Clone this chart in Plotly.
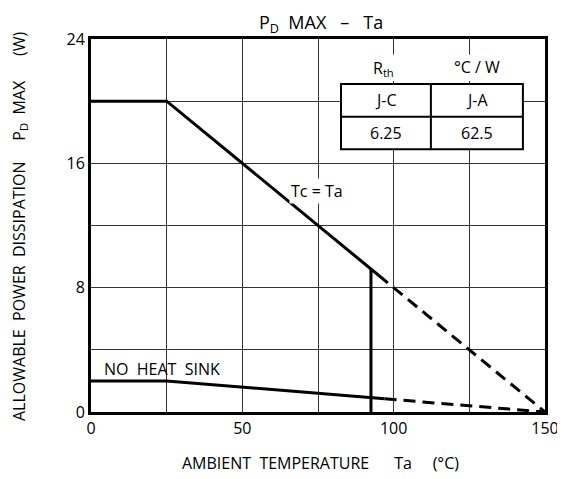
import plotly.graph_objects as go

# Data
tc_solid_x = [0, 25, 95]
tc_solid_y = [20, 20, 8.8]
tc_dash_x = [95, 150]
tc_dash_y = [8.8, 0]
ns_solid_x = [0, 25, 97]
ns_solid_y = [2, 2, 0.85]
ns_dash_x = [97, 150]
ns_dash_y = [0.85, 0]
limit_x = [92.5, 92.5]
limit_y = [0, 9.2]
x_ticks = [0, 50, 100, 150]
y_ticks = [0, 8, 16, 24]

FONT = "Open Sans"
fig = go.Figure()
line = dict(color="black", width=3)
dash = dict(color="black", width=3, dash="12px,7px")
fig.add_trace(go.Scatter(x=tc_solid_x, y=tc_solid_y, mode="lines", line=line))
fig.add_trace(go.Scatter(x=tc_dash_x, y=tc_dash_y, mode="lines", line=dash))
fig.add_trace(go.Scatter(x=ns_solid_x, y=ns_solid_y, mode="lines", line=line))
fig.add_trace(go.Scatter(x=ns_dash_x, y=ns_dash_y, mode="lines", line=dash))
fig.add_trace(go.Scatter(x=limit_x, y=limit_y, mode="lines", line=line))

# table
tbl = dict(color="black", width=2)
fig.add_shape(type="rect", x0=82.6, x1=142.7, y0=16.9, y1=21.1, line=tbl, fillcolor="white", layer="above")
fig.add_shape(type="line", x0=82.6, x1=142.7, y0=19.0, y1=19.0, line=tbl, layer="above")
fig.add_shape(type="line", x0=112.3, x1=112.3, y0=16.9, y1=21.1, line=tbl, layer="above")
fig.add_shape(type="rect", x0=84, x1=141, y0=21.3, y1=23.0, line=dict(width=0), fillcolor="white", layer="above")
tf = dict(family=FONT, size=16, color="black")
for x, y, t in [(96.5, 22.1, "R<sub>th</sub>"), (127.5, 22.2, "°C / W"), (97.5, 20.05, "J-C"),
                (127.5, 20.05, "J-A"), (97.5, 17.95, "6.25"), (127.5, 17.95, "62.5")]:
    fig.add_annotation(x=x, y=y, text=t, showarrow=False, font=tf, xanchor="center", yanchor="middle")
fig.add_annotation(x=74.7, y=14.2, text="Tc = Ta", showarrow=False, font=tf, bgcolor="white")
fig.add_annotation(x=3.5, y=2.75, text="NO  HEAT  SINK", showarrow=False, font=tf, xanchor="left")

# titles as annotations (paper coords relative to plot area: plot spans page x 91-545, y 39-412)
fig.add_annotation(xref="paper", yref="paper", x=(321 - 91) / 454, y=(412 - 8) / 373,
                   text="P<sub>D</sub>&nbsp; MAX&nbsp;&nbsp; –&nbsp;&nbsp; Ta", showarrow=False,
                   font=dict(family=FONT, size=18, color="black"), xanchor="center", yanchor="top")
fig.add_annotation(xref="paper", yref="paper", x=(320 - 91) / 454, y=(412 - 463) / 373,
                   text="AMBIENT&nbsp; TEMPERATURE&nbsp;&nbsp;&nbsp;&nbsp;&nbsp; Ta&nbsp;&nbsp;&nbsp;&nbsp; (°C)", showarrow=False,
                   font=dict(family=FONT, size=16, color="black"), xanchor="center", yanchor="middle")
fig.add_annotation(xref="paper", yref="paper", x=(19 - 91) / 454, y=(412 - 226) / 373,
                   text="ALLOWABLE&nbsp; POWER&nbsp; DISSIPATION&nbsp;&nbsp;&nbsp;&nbsp; P<sub>D</sub>&nbsp; MAX&nbsp;&nbsp;&nbsp;&nbsp;&nbsp; (W)",
                   showarrow=False, textangle=-90,
                   font=dict(family=FONT, size=16, color="black"), xanchor="center", yanchor="middle")

# page body has an 8px margin, so the figure is 8px smaller and margins shifted
fig.update_layout(
    width=557, height=471, plot_bgcolor="white", paper_bgcolor="white",
    margin=dict(l=83, r=20, t=31, b=67, autoexpand=False), showlegend=False,
    font=dict(family=FONT, size=16, color="black"),
)
grid = dict(showgrid=True, gridcolor="#333", gridwidth=1)
fig.update_xaxes(range=[0, 150], tickvals=x_ticks, minor=dict(dtick=25, tick0=0, **grid), **grid,
                 linecolor="black", linewidth=3, mirror=True, ticks="", zeroline=False, automargin=False)
fig.update_yaxes(range=[0, 24], tickvals=y_ticks, minor=dict(dtick=4, tick0=0, **grid), **grid,
                 linecolor="black", linewidth=3, mirror=True, ticks="", zeroline=False, automargin=False)
fig.write_html("out.html")
